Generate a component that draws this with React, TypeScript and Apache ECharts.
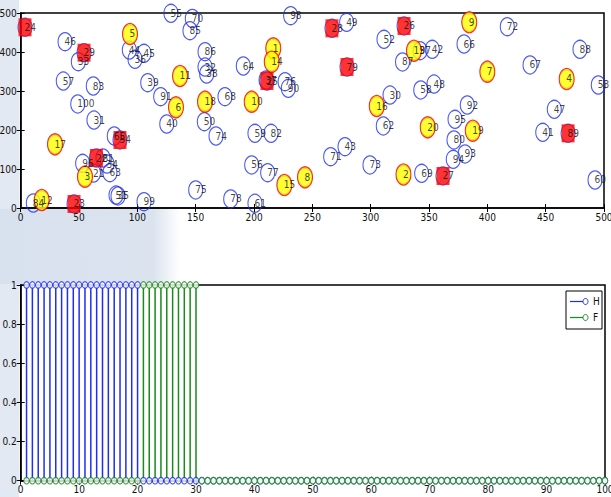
import React, { useEffect, useRef } from "react";
import * as echarts from "echarts";

// Node coordinates (node id = index + 1)
const nodeX = [
  216.5, 328.1, 55.1, 468.0, 93.7, 133.1, 400.0, 243.7, 384.5, 198.0,
  136.6, 18.0, 337.1, 215.2, 226.0, 305.2, 29.4, 158.0, 387.5, 348.9,
  62.4, 64.9, 45.7, 3.7, 211.1, 328.6, 362.0, 266.8, 54.3, 316.6,
  62.8, 158.0, 49.4, 74.0, 83.4, 98.0, 210.3, 159.4, 108.9, 125.2,
  447.5, 352.8, 278.0, 93.1, 105.7, 38.0, 457.4, 354.3, 279.4, 157.4,
  81.7, 311.4, 495.1, 85.1, 128.8, 198.0, 36.5, 342.9, 200.8, 492.3,
  200.8, 310.8, 76.5, 190.8, 80.2, 380.0, 436.6, 175.1, 343.7, 147.1,
  265.7, 417.1, 299.4, 167.4, 150.0, 226.6, 211.7, 180.0, 279.7, 371.4,
  70.5, 214.6, 62.2, 10.8, 145.1, 158.0, 327.3, 479.4, 469.2, 229.4,
  120.0, 382.8, 380.9, 370.8, 372.3, 53.1, 342.3, 231.4, 105.7, 48.9,
];
const nodeY = [
  409.5, 85.9, 80.3, 330.8, 446.2, 258.2, 349.5, 78.7, 476.2, 272.6,
  338.5, 20.5, 403.3, 375.1, 59.0, 261.5, 163.3, 272.6, 198.2, 206.9,
  89.7, 128.2, 10.3, 463.3, 325.6, 466.7, 82.1, 460.8, 398.2, 289.7,
  225.6, 361.5, 375.1, 112.8, 30.8, 381.3, 328.2, 343.6, 321.3, 215.4,
  194.1, 406.9, 157.2, 405.1, 396.7, 426.4, 253.1, 317.9, 476.2, 221.3,
  33.3, 432.6, 315.4, 174.4, 499.2, 110.3, 325.6, 302.6, 191.5, 71.8,
  12.1, 210.3, 90.5, 364.1, 184.6, 420.5, 366.7, 285.4, 89.0, 485.9,
  131.5, 464.9, 110.3, 184.6, 46.2, 323.8, 90.5, 23.1, 361.5, 174.4,
  128.2, 191.5, 312.8, 12.8, 454.6, 400.8, 374.4, 406.9, 191.5, 306.9,
  285.4, 264.1, 138.5, 124.9, 227.4, 114.6, 403.3, 493.1, 16.2, 266.7,
];
const yellowNodes = [1, 2, 3, 4, 5, 6, 7, 8, 9, 10, 11, 12, 13, 14, 15, 16, 17, 18, 19, 20];
const headNodes = [22, 23, 24, 25, 26, 27, 28, 29, 54, 79, 89];

// Stem plot values for index 1..100
const hValues = [
  1, 1, 1, 1, 1, 1, 1, 1, 1, 1, 1, 1, 1, 1, 1, 1, 1, 1, 1, 1,
  0, 0, 0, 0, 0, 0, 0, 0, 0, 0, 0, 0, 0, 0, 0, 0, 0, 0, 0, 0,
  0, 0, 0, 0, 0, 0, 0, 0, 0, 0, 0, 0, 0, 0, 0, 0, 0, 0, 0, 0,
  0, 0, 0, 0, 0, 0, 0, 0, 0, 0, 0, 0, 0, 0, 0, 0, 0, 0, 0, 0,
  0, 0, 0, 0, 0, 0, 0, 0, 0, 0, 0, 0, 0, 0, 0, 0, 0, 0, 0, 0,
];
const fValues = [
  0, 0, 0, 0, 0, 0, 0, 0, 0, 0, 0, 0, 0, 0, 0, 0, 0, 0, 0, 0,
  1, 1, 1, 1, 1, 1, 1, 1, 1, 1, 0, 0, 0, 0, 0, 0, 0, 0, 0, 0,
  0, 0, 0, 0, 0, 0, 0, 0, 0, 0, 0, 0, 0, 0, 0, 0, 0, 0, 0, 0,
  0, 0, 0, 0, 0, 0, 0, 0, 0, 0, 0, 0, 0, 0, 0, 0, 0, 0, 0, 0,
  0, 0, 0, 0, 0, 0, 0, 0, 0, 0, 0, 0, 0, 0, 0, 0, 0, 0, 0, 0,
];
const seriesNames = ["H", "F"];

const FONT =
  "'Liberation Sans Narrow', 'Arial Narrow', 'DejaVu Sans Condensed', 'Liberation Sans', Arial, sans-serif";
const BLUE = "#1f2ff0";
const GREEN = "#1a8a1a";

function nodePoint(id: number) {
  return { value: [nodeX[id - 1], nodeY[id - 1]], name: String(id) };
}

function axisPair(
  gridIndex: number,
  min: number,
  max: number,
  interval: number,
  isX: boolean
) {
  const common = {
    gridIndex,
    type: "value",
    min,
    max,
    interval,
    splitLine: { show: false },
    axisTick: { show: true, inside: true, length: 4, lineStyle: { color: "#000", width: 1 } },
  };
  const main = {
    ...common,
    position: isX ? "bottom" : "left",
    axisLine: { show: true, onZero: false, lineStyle: { color: "#000", width: 1.5 } },
    axisLabel: {
      show: true,
      fontSize: 10,
      color: "#111",
      fontFamily: FONT,
      margin: isX ? 4 : 4,
    },
  };
  const opp = {
    ...common,
    position: isX ? "top" : "right",
    axisLine: { show: false },
    axisLabel: { show: false },
  };
  return [main, opp];
}

export default function App() {
  const ref = useRef<HTMLDivElement>(null);

  useEffect(() => {
    if (!ref.current) return;
    const chart = echarts.init(ref.current, null, { renderer: "svg" });

    const allIds = nodeX.map((_, i) => i + 1);
    const stemH = hValues.map((v, i) => [i + 1, v]);
    const stemF = fValues.map((v, i) => [i + 1, v]);

    const option: any = {
      animation: false,
      backgroundColor: "#fff",
      graphic: [
        {
          type: "rect",
          z: -10,
          silent: true,
          shape: { x: 0, y: 0, width: 19, height: 497 },
          style: { fill: "#e2e9f3" },
        },
        {
          type: "rect",
          z: -10,
          silent: true,
          shape: { x: 0, y: 209, width: 180, height: 75 },
          style: {
            fill: new echarts.graphic.LinearGradient(0, 0, 1, 0, [
              { offset: 0, color: "#d8e1ee" },
              { offset: 0.85, color: "#dbe3ef" },
              { offset: 1, color: "#ffffff" },
            ]),
          },
        },
        {
          type: "rect",
          z: 100,
          silent: true,
          shape: { x: 566, y: 291, width: 36, height: 38 },
          style: { fill: "#fff", stroke: "#000", lineWidth: 1 },
        },
        {
          type: "line",
          z: 101,
          silent: true,
          shape: { x1: 570, y1: 301.5, x2: 583, y2: 301.5 },
          style: { stroke: BLUE, lineWidth: 1.2 },
        },
        {
          type: "ellipse",
          z: 101,
          silent: true,
          shape: { cx: 585.5, cy: 301.5, rx: 2.5, ry: 3 },
          style: { fill: "none", stroke: BLUE, lineWidth: 1 },
        },
        {
          type: "text",
          z: 101,
          silent: true,
          x: 593,
          y: 301.5,
          style: {
            text: seriesNames[0],
            fontSize: 10,
            fontFamily: FONT,
            fill: "#111",
            verticalAlign: "middle",
          },
        },
        {
          type: "line",
          z: 101,
          silent: true,
          shape: { x1: 570, y1: 317.5, x2: 583, y2: 317.5 },
          style: { stroke: GREEN, lineWidth: 1.2 },
        },
        {
          type: "ellipse",
          z: 101,
          silent: true,
          shape: { cx: 585.5, cy: 317.5, rx: 2.5, ry: 3 },
          style: { fill: "none", stroke: GREEN, lineWidth: 1 },
        },
        {
          type: "text",
          z: 101,
          silent: true,
          x: 593,
          y: 317.5,
          style: {
            text: seriesNames[1],
            fontSize: 10,
            fontFamily: FONT,
            fill: "#111",
            verticalAlign: "middle",
          },
        },
      ],
      grid: [
        {
          left: 20.7,
          top: 13,
          width: 583.3,
          height: 195,
          show: true,
          borderColor: "#000",
          borderWidth: 1.5,
          backgroundColor: "#fff",
          outerBoundsMode: "none",
        },
        {
          left: 20.7,
          top: 285,
          width: 584.3,
          height: 195.7,
          show: true,
          borderColor: "#000",
          borderWidth: 1.5,
          backgroundColor: "#fff",
          outerBoundsMode: "none",
        },
      ],
      xAxis: [...axisPair(0, 0, 500, 50, true), ...axisPair(1, 0, 100, 10, true)],
      yAxis: [...axisPair(0, 0, 500, 100, false), ...axisPair(1, 0, 1, 0.2, false)],
      series: [
        {
          type: "scatter",
          name: "nodes",
          xAxisIndex: 0,
          yAxisIndex: 0,
          symbol: "circle",
          symbolSize: [14, 18],
          clip: false,
          silent: true,
          itemStyle: { color: "rgba(0,0,0,0)", borderColor: BLUE, borderWidth: 1.2 },
          data: allIds.map(nodePoint),
        },
        {
          type: "scatter",
          name: "selected",
          xAxisIndex: 0,
          yAxisIndex: 0,
          symbol: "circle",
          symbolSize: [15, 21],
          clip: false,
          silent: true,
          itemStyle: { color: "#ffff00", borderColor: "#ff0000", borderWidth: 1.2 },
          data: yellowNodes.map(nodePoint),
        },
        {
          type: "scatter",
          name: "heads",
          xAxisIndex: 0,
          yAxisIndex: 0,
          symbol: "rect",
          symbolSize: [13, 18],
          clip: false,
          silent: true,
          itemStyle: { color: "#ff0000" },
          data: headNodes.map(nodePoint),
        },
        {
          type: "scatter",
          name: "labels",
          xAxisIndex: 0,
          yAxisIndex: 0,
          symbol: "circle",
          symbolSize: 1,
          clip: false,
          silent: true,
          itemStyle: { color: "rgba(0,0,0,0)" },
          label: {
            show: true,
            position: [0, 0.5],
            align: "left",
            verticalAlign: "middle",
            formatter: (p: any) => p.name,
            fontSize: 10,
            color: "#111",
            fontFamily: FONT,
          },
          labelLayout: { hideOverlap: false },
          data: allIds.map(nodePoint),
        },
        {
          type: "bar",
          name: seriesNames[0],
          xAxisIndex: 2,
          yAxisIndex: 2,
          barWidth: 1.5,
          silent: true,
          itemStyle: { color: BLUE },
          data: stemH,
        },
        {
          type: "bar",
          name: seriesNames[1] + " stems",
          xAxisIndex: 2,
          yAxisIndex: 2,
          barWidth: 1.5,
          barGap: "-100%",
          silent: true,
          itemStyle: { color: GREEN },
          data: stemF,
        },
        {
          type: "scatter",
          name: seriesNames[0] + " markers",
          xAxisIndex: 2,
          yAxisIndex: 2,
          symbol: "circle",
          symbolSize: [5.5, 6.5],
          clip: false,
          silent: true,
          itemStyle: { color: "#fff", borderColor: BLUE, borderWidth: 1.1 },
          data: stemH,
        },
        {
          type: "scatter",
          name: seriesNames[1],
          xAxisIndex: 2,
          yAxisIndex: 2,
          symbol: "circle",
          symbolSize: [5.5, 6.5],
          clip: false,
          silent: true,
          itemStyle: { color: "#fff", borderColor: GREEN, borderWidth: 1.1 },
          data: stemF,
        },
      ],
    };

    chart.setOption(option);
    return () => chart.dispose();
  }, []);

  return (
    <div
      ref={ref}
      style={{ position: "absolute", left: 0, top: 0, width: 611, height: 497 }}
    />
  );
}
